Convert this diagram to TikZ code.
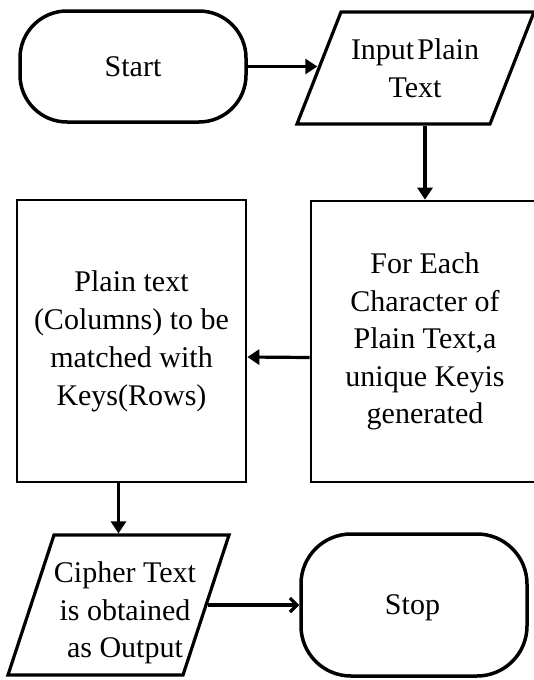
\documentclass[tikz,border=0pt]{standalone}
\usepackage{fontspec}
\setmainfont{Liberation Serif}
\usetikzlibrary{arrows.meta,shapes.geometric}
\begin{document}
\begin{tikzpicture}[x=1pt,y=-1pt,
  txt/.style={align=center,font=\fontsize{30}{37.5}\selectfont,inner sep=0pt},
  term/.style={draw,line width=3.5pt,rectangle,inner sep=0pt},
  procbox/.style={draw,line width=2.7pt,rectangle,inner sep=0pt},
  iobox/.style={draw,line width=3.2pt,trapezium},
  arr/.style={line width=3.2pt,-{Triangle[length=12pt,width=15pt]}},
  arrb/.style={line width=3.2pt,-{Straight Barb[length=7pt,width=14pt]}}]
\fill[white] (0,0) rectangle (533,680);
\useasboundingbox (0,0) rectangle (533,680);

% terminals
\node[term,txt,rounded corners=47pt,minimum width=226pt,minimum height=111pt] (start) at (133,66.5) {Start};
\node[term,rounded corners=50pt,minimum width=226pt,minimum height=142pt] (stop) at (414,605) {};
\node[txt] (stopT) at (412.5,608) {Stop};

% input / output
\node[iobox,trapezium left angle=68.55,trapezium right angle=111.45,inner xsep=74.5pt,inner ysep=56pt] (input) at (415.5,68) {};
\node[txt] (inputT) at (415,68) {Input\hspace{3pt}Plain\\Text};

\node[iobox,trapezium left angle=71.8,trapezium right angle=108.2,inner xsep=64.5pt,inner ysep=70pt] (cipher) at (118.5,605) {};
\node[txt] (cipherT) at (125,613) {Cipher Text\\is obtained\\as Output};

% process boxes
\node[procbox,txt,minimum width=228pt,minimum height=281pt] (rbox) at (425,341.5) {For Each\\Character of\\Plain Text,a\\unique Keyis\\generated};
\node[procbox,txt,font=\fontsize{30}{38}\selectfont,minimum width=229pt,minimum height=282pt] (lbox) at (131.5,341) {Plain text\\(Columns) to be\\matched with\\Keys(Rows)};

% connectors
\draw[arr] (start.east) -- (start.east -| input.west);
\draw[arr] (input.south -| rbox.north) -- (rbox.north);
\draw[arr] ([yshift=-16pt]rbox.west) -- ([yshift=-16pt]lbox.east);
\draw[arr] (lbox.south -| cipher.center) -- (cipher.north -| cipher.center);
\draw[arrb] (cipher.east) -- (stop.west);
\end{tikzpicture}
\end{document}
